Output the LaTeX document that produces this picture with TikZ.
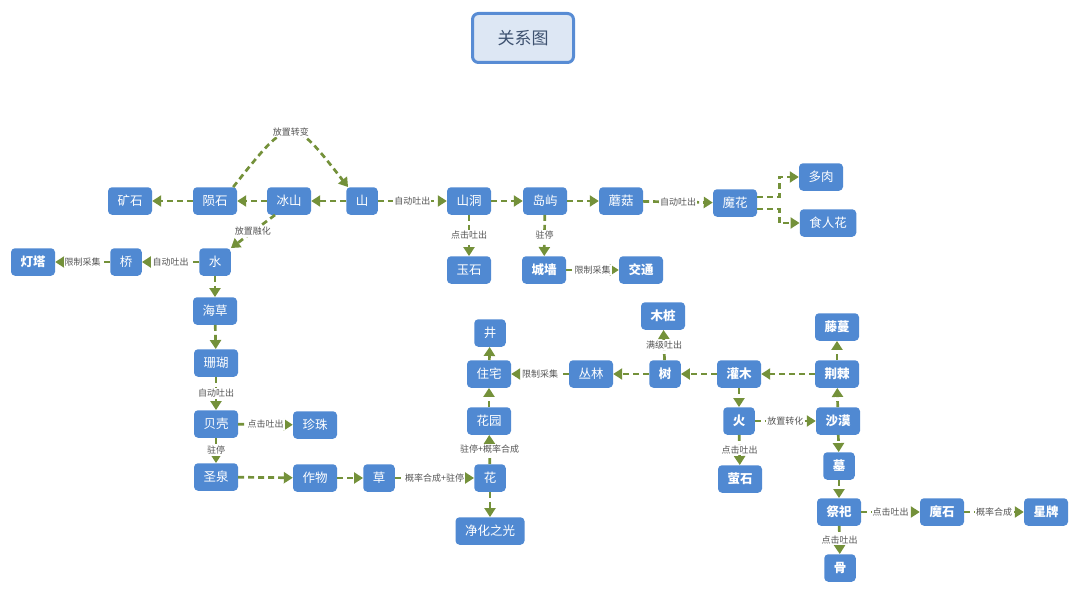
\documentclass[tikz,border=0pt]{standalone}
\usepackage{fontspec}
\setmainfont{Noto Sans CJK SC}
\usetikzlibrary{arrows.meta}
\definecolor{nodeblue}{RGB}{80,137,210}
\definecolor{edgegreen}{RGB}{116,145,58}
\definecolor{labelgray}{RGB}{85,85,85}
\definecolor{titlefill}{RGB}{221,231,244}
\definecolor{titleborder}{RGB}{88,140,212}
\definecolor{titletext}{RGB}{62,82,112}
\begin{document}
\begin{tikzpicture}[x=1pt,y=-1pt,
  box/.style={fill=nodeblue, rounded corners=4pt, text=white, font=\fontsize{12.5}{12.5}\selectfont, minimum height=27.5pt, inner xsep=9.5pt, inner ysep=0pt},
  bbox/.style={box, font=\fontsize{12.5}{12.5}\selectfont\bfseries},
  edge/.style={draw=edgegreen, line width=2.7pt, dash pattern=on 6pt off 4pt, -{Triangle[length=9pt,width=11pt]}},
  lbl/.style={fill=white, text=labelgray, font=\fontsize{9}{9}\selectfont, inner sep=1pt}]
\useasboundingbox (0,0) rectangle (1080,594);
% title
\node[draw=titleborder, line width=3pt, fill=titlefill, rounded corners=6pt, text=titletext, font=\fontsize{17}{17}\selectfont, minimum width=101pt, minimum height=49pt] (title) at (523,38) {关系图};
% top row
\node[box] (ks) at (130,201) {矿石};
\node[box] (ys) at (215,201) {陨石};
\node[box] (bs) at (289,201) {冰山};
\node[box] (shan) at (362,201) {山};
\node[box] (sd) at (469,201) {山洞};
\node[box] (dy) at (545,201) {岛屿};
\node[box] (mg) at (621,201) {蘑菇};
\node[box] (mh) at (735,203) {魔花};
\node[box] (dr) at (821,177) {多肉};
\node[box] (srh) at (828,223) {食人花};
\node[box] (yus) at (469,270) {玉石};
\node[bbox] (cq) at (544,270) {城墙};
\node[bbox] (jt) at (641,270) {交通};
% left column
\node[box] (water) at (215,262) {水};
\node[box] (qiao) at (126,262) {桥};
\node[bbox] (dt) at (33,262) {灯塔};
\node[box] (hc) at (215,311) {海草};
\node[box] (sh) at (216,363) {珊瑚};
\node[box] (bk) at (216,424) {贝壳};
\node[box] (zz) at (315,425) {珍珠};
\node[box] (sq) at (216,477) {圣泉};
\node[box] (zw) at (315,478) {作物};
\node[box] (cao) at (379,478) {草};
\node[box] (hua) at (490,478) {花};
\node[box] (jh) at (490,531) {净化之光};
\node[box] (hy) at (489,421) {花园};
\node[box] (zhz) at (489,374) {住宅};
\node[box] (jing) at (490,333) {井};
\node[box] (cl) at (591,374) {丛林};
% right side
\node[bbox] (shu) at (665,374) {树};
\node[bbox] (mz) at (663,316) {木桩};
\node[bbox] (gm) at (739,374) {灌木};
\node[bbox] (jj) at (837,374) {荆棘};
\node[bbox] (tm) at (837,327) {藤蔓};
\node[bbox] (huo) at (739,421) {火};
\node[bbox] (ysh) at (740,479) {萤石};
\node[bbox] (sm) at (838,421) {沙漠};
\node[bbox] (mu) at (839,466) {墓};
\node[bbox] (js) at (839,512) {祭祀};
\node[bbox] (gu) at (840,568) {骨};
\node[bbox] (mos) at (942,512) {魔石};
\node[bbox] (xp) at (1046,512) {星牌};
% edges
\draw[edge] (shan) -- (bs);
\draw[edge] (bs) -- (ys);
\draw[edge] (ys) -- (ks);
\draw[edge] ([xshift=-4pt]ys.north east) .. controls (291,114) .. node[lbl,pos=0.5]{放置转变} ([xshift=2pt]shan.north west);
\draw[edge] ([xshift=-14pt]bs.south) -- node[lbl]{放置融化} (water.north east);
\draw[edge] (water) -- node[lbl]{自动吐出} (qiao);
\draw[edge] (qiao) -- node[lbl]{限制采集} (dt);
\draw[edge] (water) -- (hc);
\draw[edge] (hc) -- (sh);
\draw[edge] (sh) -- node[lbl]{自动吐出} (bk);
\draw[edge] (bk) -- node[lbl]{点击吐出} (zz);
\draw[edge] (bk) -- node[lbl]{驻停} (sq);
\draw[edge] (sq) -- (zw);
\draw[edge] (zw) -- (cao);
\draw[edge] (cao) -- node[lbl]{概率合成+驻停} (hua);
\draw[edge] (hua) -- node[lbl]{驻停+概率合成} (hy);
\draw[edge] (hua) -- (jh);
\draw[edge] (hy) -- (zhz);
\draw[edge] (zhz) -- (jing);
\draw[edge] (cl) -- node[lbl]{限制采集} (zhz);
\draw[edge] (shu) -- (cl);
\draw[edge] (shu) -- node[lbl]{满级吐出} (mz);
\draw[edge] (gm) -- (shu);
\draw[edge] (jj) -- (gm);
\draw[edge] (jj) -- (tm);
\draw[edge] (sm) -- (jj);
\draw[edge] (gm) -- (huo);
\draw[edge] (huo) -- node[lbl]{放置转化} (sm);
\draw[edge] (huo) -- node[lbl]{点击吐出} (ysh);
\draw[edge] (sm) -- (mu);
\draw[edge] (mu) -- (js);
\draw[edge] (js) -- node[lbl]{点击吐出} (mos);
\draw[edge] (mos) -- node[lbl]{概率合成} (xp);
\draw[edge] (js) -- node[lbl]{点击吐出} (gu);
\draw[edge] (shan) -- node[lbl]{自动吐出} (sd);
\draw[edge] (sd) -- (dy);
\draw[edge] (dy) -- (mg);
\draw[edge] (mg) -- node[lbl]{自动吐出} (mh);
\draw[edge] ([yshift=6pt]mh.east) -- ++(22,0) |- (dr.west);
\draw[edge] ([yshift=-6pt]mh.east) -- ++(22,0) |- (srh.west);
\draw[edge] (sd) -- node[lbl]{点击吐出} (yus);
\draw[edge] (dy) -- node[lbl]{驻停} (cq);
\draw[edge] (cq) -- node[lbl]{限制采集} (jt);
\end{tikzpicture}
\end{document}
